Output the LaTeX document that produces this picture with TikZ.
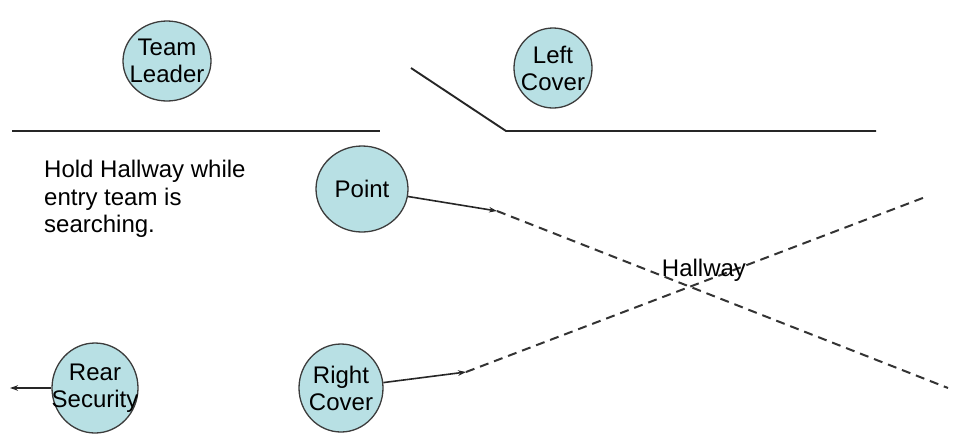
\documentclass[tikz,border=0pt]{standalone}
\usepackage{fontspec}
\setmainfont{Liberation Sans}
\usetikzlibrary{shapes.geometric,arrows.meta}
\definecolor{rolefill}{RGB}{184,224,228}
\definecolor{rim}{RGB}{60,60,60}
\tikzset{
  role/.style={ellipse, draw=rim, line width=1.3pt, fill=rolefill, inner sep=0pt},
  rolename/.style={label={[align=center, inner sep=0pt,
    font=\fontsize{24}{27}\selectfont]center:#1}},
  wall/.style={draw=black!85, line width=1.9pt},
  move/.style={draw=black!85, line width=1.6pt, -{Stealth[length=8pt,width=5.5pt]}},
  sight/.style={draw=black!80, line width=2pt, dash pattern=on 9pt off 6pt},
}
\begin{document}
\begin{tikzpicture}[x=1pt,y=-1pt]
\useasboundingbox (0,0) rectangle (960,440);

% walls of the hallway
\draw[wall] (12,131) -- (380,131);
\draw[wall] (411,68) -- (506,131) -- (876,131);

% team members
\node[role, minimum width=88pt, minimum height=80pt, rolename={Team\\Leader}] (tl) at (167,61) {};
\node[role, minimum width=78pt, minimum height=80pt, rolename={Left\\Cover}] (lc) at (553,68) {};
\node[role, minimum width=92pt, minimum height=86pt, rolename={Point}] (pt) at (362,189) {};
\node[role, minimum width=86pt, minimum height=90pt, rolename={Rear\\Security}] (rs) at (95,388) {};
\node[role, minimum width=84pt, minimum height=88pt, rolename={Right\\Cover}] (rc) at (341,388) {};

% sight lines down the hallway
\coordinate (pa) at (497,211);
\coordinate (pe) at (948,388);
\coordinate (ra) at (466,372);
\coordinate (re) at (928,196);
\coordinate (rear) at (10,388);

\draw[sight] (pa) -- (pe);
\draw[sight] (ra) -- (re);
\draw[move] (pt) -- (pa);
\draw[move] (rc) -- (ra);
\draw[move] (rs) -- (rear);

\node[font=\fontsize{24}{27}\selectfont, inner sep=0pt] (hw) at (704,270) {Hallway};

\node[anchor=north west, align=left, inner sep=0pt,
  font=\fontsize{24}{27.5}\selectfont] (note) at (44,160)
  {Hold Hallway while\\entry team is\\searching.};
\end{tikzpicture}
\end{document}
